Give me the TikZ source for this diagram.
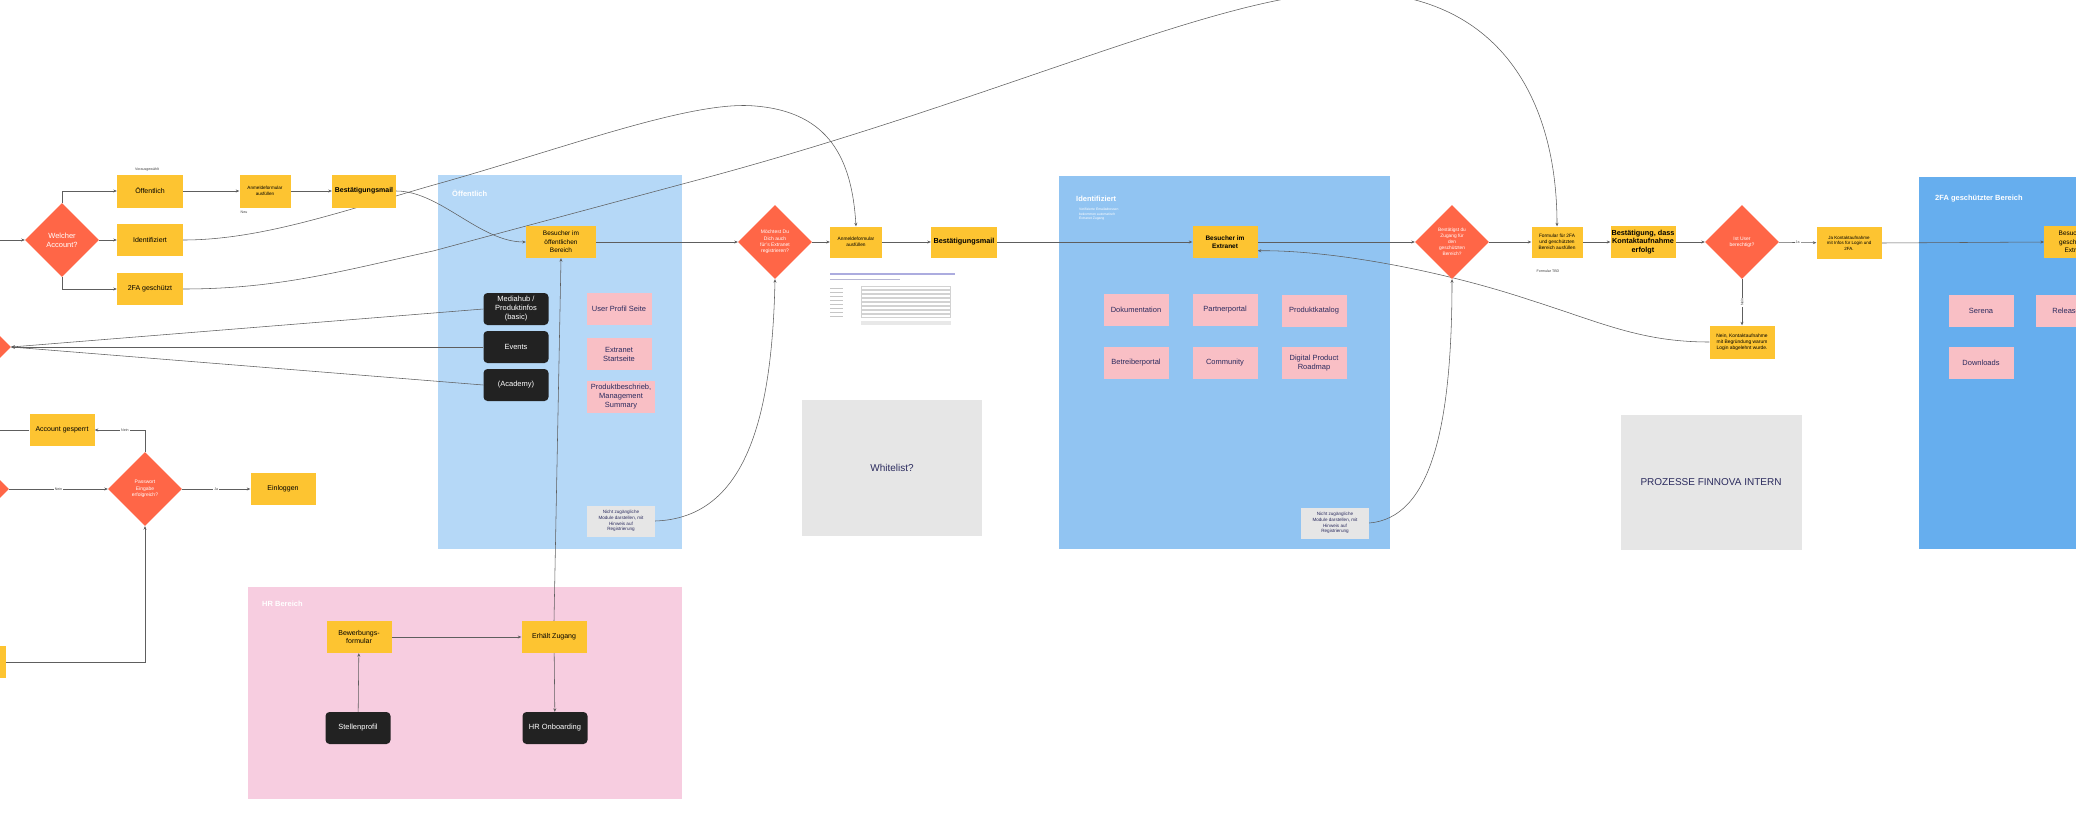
\documentclass[tikz,border=0pt]{standalone}
\usepackage{fontspec}
\setmainfont{Liberation Sans}
\setsansfont{Liberation Sans}
\usetikzlibrary{shapes.geometric,arrows.meta}
\pgfdeclarelayer{back}\pgfdeclarelayer{mid}\pgfsetlayers{back,mid,main}
\definecolor{yel}{HTML}{FDC431}
\definecolor{redd}{HTML}{FF6647}
\definecolor{oefc}{HTML}{B5D8F7}
\definecolor{idc}{HTML}{91C4F2}
\definecolor{zfc}{HTML}{66AEEE}
\definecolor{hrc}{HTML}{F7CDE0}
\definecolor{pinkb}{HTML}{F9BFC5}
\definecolor{greyb}{HTML}{E6E6E6}
\definecolor{darkb}{HTML}{222222}
\definecolor{navy}{HTML}{2B2B5E}
\definecolor{lin}{HTML}{5E5E5E}
\newcommand\myfs[2]{\fontsize{#1}{#2}\selectfont}
\tikzset{
 ybox/.style={fill=yel, minimum width=65pt, minimum height=32pt, inner sep=0.5pt, align=center, text=black, font=\myfs{7}{8.5}},
 dia/.style={diamond, aspect=1, fill=redd, minimum width=74pt, minimum height=74pt, inner sep=0pt, align=center, text=white, font=\myfs{5}{6.3}},
 dbox/.style={fill=darkb, rounded corners=4pt, minimum width=65pt, minimum height=32pt, inner sep=0.5pt, text=white, align=center, font=\myfs{7.5}{9}},
 pbox/.style={fill=pinkb, minimum width=65pt, minimum height=32pt, inner sep=0.5pt, text=navy, align=center, font=\myfs{7.5}{9}},
 gbox/.style={fill=greyb, minimum width=68pt, minimum height=31pt, inner sep=0.5pt, text=navy, align=center, font=\myfs{4.6}{5.8}},
 bigbox/.style={fill=greyb, inner sep=0pt, text=navy, font=\myfs{10}{12}},
 panel/.style={anchor=north west, inner sep=0pt, outer sep=0pt},
 ptitle/.style={anchor=west, text=white, inner sep=0pt, font=\bfseries\myfs{7.5}{9}},
 conn/.style={draw=lin, line width=0.55pt, -{Stealth[length=3.5pt,width=3pt]}},
 plain/.style={draw=lin, line width=0.55pt},
 lbl/.style={font=\myfs{3.6}{4.2}, fill=white, inner sep=1pt, text=darkgray},
 tiny/.style={font=\myfs{3.6}{4.2}, inner sep=0pt, text=darkgray},
}
\begin{document}
\begin{tikzpicture}[x=1pt,y=-1pt]
\useasboundingbox (0,0) rectangle (2076,814);

% ---------- panels ----------
\begin{pgfonlayer}{back}
\fill[white] (0,0) rectangle (2076,814);
\node[panel, fill=oefc, minimum width=244pt, minimum height=374pt] (pOef) at (438,175) {};
\node[panel, fill=hrc, minimum width=434pt, minimum height=212pt] (pHR) at (248,587) {};
\node[panel, fill=idc, minimum width=331pt, minimum height=373pt] (pId) at (1059,176) {};
\node[panel, fill=zfc, minimum width=180pt, minimum height=372pt] (pZf) at (1919,177) {};
\end{pgfonlayer}
\node[ptitle] (tOef) at (452,193) {Öffentlich};
\node[ptitle] (tHR) at (262,604) {HR Bereich};
\node[ptitle] (tId) at (1076,199) {Identifiziert};
\node[anchor=north west, text=white, align=left, inner sep=0pt, font=\myfs{3.4}{4.6}] (tIdSub) at (1079,208) {Verifizierte Emailadressen\\bekommen automatisch\\Extranet Zugang};
\node[ptitle] (tZf) at (1935,199) {2FA geschützter Bereich};

% ---------- left part ----------
\coordinate (in0) at (-30,240);
\coordinate (agl) at (-30,430);
\node[dia, font=\myfs{7.5}{9}] (wa) at (62,240) {Welcher\\Account?};
\node[ybox, minimum width=66pt, minimum height=33pt] (oef) at (150,191) {Öffentlich};
\node[ybox, minimum width=66pt] (idf) at (150,240) {Identifiziert};
\node[ybox, minimum width=66pt] (zfa) at (150,289) {2FA geschützt};
\node[ybox, minimum width=51pt, minimum height=33pt, font=\myfs{4.6}{5.8}] (anm1) at (265,191) {Anmeldeformular\\ausfüllen};
\node[ybox, minimum width=64pt, minimum height=33pt, font=\bfseries\myfs{7}{8.5}] (bst1) at (364,191) {Bestätigungsmail};
\node[tiny] (lvor) at (147,170) {Vorausgewählt};
\node[tiny] (lneu) at (244,212) {Neu};

\node[dia] (ldia1) at (-26,347) {};
\node[ybox] (ag) at (62,430) {Account gesperrt};
\node[dia] (ldia2) at (-28,489) {};
\node[dia] (pw) at (145,489) {Passwort\\Eingabe\\erfolgreich?};
\node[ybox] (ein) at (283,489) {Einloggen};
\node[ybox] (lbox) at (-27,662) {};

% ---------- Oeffentlich ----------
\node[ybox, minimum width=70pt, font=\myfs{6.5}{8.5}] (bo) at (561,242) {Besucher im\\öffentlichen\\Bereich};
\node[dbox] (med) at (516,309) {Mediahub /\\Produktinfos\\(basic)};
\node[dbox] (evt) at (516,347) {Events};
\node[dbox] (aca) at (516,385) {(Academy)};
\node[pbox] (ups) at (619,309) {User Profil Seite};
\node[pbox] (exs) at (619,354) {Extranet\\Startseite};
\node[pbox, minimum width=68pt] (pbm) at (621,397) {Produktbeschrieb,\\Management\\Summary};
\node[gbox] (nz1) at (621,521) {Nicht zugängliche\\Module darstellen, mit\\Hinweis auf\\Registrierung};

% ---------- HR ----------
\node[ybox] (bew) at (359,637) {Bewerbungs-\\formular};
\node[ybox] (erh) at (554,637) {Erhält Zugang};
\node[dbox] (stp) at (358,728) {Stellenprofil};
\node[dbox] (hro) at (555,728) {HR Onboarding};

% ---------- middle ----------
\node[dia] (d1) at (775,242) {Möchtest Du\\Dich auch\\für's Extranet\\registrieren?};
\node[ybox, minimum width=52pt, minimum height=31pt, font=\myfs{4.8}{6}] (anm2) at (856,242) {Anmeldeformular\\ausfüllen};
\node[ybox, minimum width=66pt, minimum height=31pt, font=\bfseries\myfs{7.3}{8.5}] (bst2) at (964,242) {Bestätigungsmail};
\node[bigbox, minimum width=180pt, minimum height=136pt] (wl) at (892,468) {Whitelist?};

% form screenshot
\fill[gray!55!blue!45] (830,273) rectangle (955,275);
\draw[blue!25!gray!45, line width=0.9pt] (830,279) -- (900,279);
\foreach \r in {0,...,7}{
  \draw[gray!45, line width=0.5pt] (830,288+4*\r) -- (843,288+4*\r);
  \draw[gray!35, line width=0.3pt] (861,286.5+4*\r) rectangle (950,289.5+4*\r);
}
\fill[gray!18] (861,321) rectangle (951,325);

% ---------- Identifiziert ----------
\node[ybox, font=\bfseries\myfs{6.5}{8.5}] (bext) at (1225,242) {Besucher im\\Extranet};
\node[pbox] (dok) at (1136,310) {Dokumentation};
\node[pbox] (ppo) at (1225,310) {Partnerportal};
\node[pbox] (pkt) at (1314,311) {Produktkatalog};
\node[pbox] (bet) at (1136,363) {Betreiberportal};
\node[pbox] (com) at (1225,363) {Community};
\node[pbox] (dpr) at (1314,363) {Digital Product\\Roadmap};
\node[gbox] (nz2) at (1335,523) {Nicht zugängliche\\Module darstellen, mit\\Hinweis auf\\Registrierung};

% ---------- right ----------
\node[dia, font=\myfs{4.8}{6.1}] (d2) at (1452,242) {Bestätigst du\\Zugang für\\den\\geschützten\\Bereich?};
\node[ybox, minimum width=51pt, minimum height=31pt, font=\myfs{4.8}{6.2}] (f2fa) at (1557,242) {Formular für 2FA\\und geschützten\\Bereich ausfüllen};
\node[tiny] (ltbd) at (1548,271) {Formular TBD};
\node[ybox, minimum width=65pt, inner sep=0pt, font=\bfseries\myfs{7.3}{8.7}] (bk) at (1643,242) {Bestätigung, dass\\Kontaktaufnahme\\erfolgt};
\node[dia] (d3) at (1742,242) {Ist User\\berechtigt?};
\node[ybox, font=\myfs{4.5}{5.6}] (jab) at (1849,243) {Ja Kontaktaufnahme\\mit Infos für Login und\\2FA.};
\node[ybox, minimum height=33pt, font=\myfs{4.9}{6.2}] (nein) at (1742,342) {Nein, Kontaktaufnahme\\mit Begründung warum\\Login abgelehnt wurde.};
\node[bigbox, minimum width=181pt, minimum height=135pt] (pfi) at (1711,482) {PROZESSE FINNOVA INTERN};

% ---------- 2FA ----------
\node[ybox, anchor=west, font=\myfs{6.5}{8.5}] (bge) at (2044,242) {Besucher im\\geschützten\\Extranet};
\node[pbox] (ser) at (1981,311) {Serena};
\node[pbox] (rel) at (2068,311) {Releases};
\node[pbox] (dwn) at (1981,363) {Downloads};

% ---------- connectors ----------
\begin{pgfonlayer}{mid}
\draw[conn] (in0) -- (wa.west);
\draw[conn] (wa.north) |- (oef.west);
\draw[conn] (wa.east) -- (idf.west);
\draw[conn] (wa.south) |- (zfa.west);
\draw[conn] (oef) -- (anm1);
\draw[conn] (anm1) -- (bst1);
\draw[conn] (bst1.east) .. controls (440,191) and (480,242) .. (bo.west);
\draw[conn] (idf.east) .. controls (260,240) and (340,212) .. (430,186) .. controls (560,150) and (690,100) .. (755,106) .. controls (830,112) and (852,160) .. (anm2.north);
\draw[conn] (zfa.east) .. controls (280,289) and (345,270) .. (433,251) -- (690,182) .. controls (1000,100) and (1220,-8) .. (1350,-8) .. controls (1500,-8) and (1557,100) .. (f2fa.north);
\draw[conn] (med.west) -- (ldia1.east);
\draw[conn] (evt.west) -- (ldia1.east);
\draw[conn] (aca.west) -- (ldia1.east);
\draw[plain] (ag.west) -- (agl);
\draw[conn] (ldia2.east) -- node[lbl]{Nein} (pw.west);
\draw[conn] (pw.east) -- node[lbl]{Ja} (ein.west);
\draw[conn] (pw.north) |- node[lbl, pos=0.7]{Nein} (ag.east);
\draw[conn] (lbox.east) -| (pw.south);
% HR
\draw[conn] (bew) -- (erh);
\draw[conn] (stp) -- (bew);
\draw[conn] (erh) -- (hro);
\draw[conn] (erh.north) -- (bo.south);
% main flow
\draw[conn] (bo) -- (d1);
\draw[conn] (d1) -- (anm2);
\draw[conn] (anm2) -- (bst2);
\draw[conn] (bst2) -- (bext);
\draw[conn] (bext) -- (d2);
\draw[conn] (d2) -- (f2fa);
\draw[conn] (f2fa) -- (bk);
\draw[conn] (bk) -- (d3);
\draw[conn] (d3) -- node[lbl]{Ja} (jab);
\draw[conn] (d3) -- node[lbl, rotate=90]{Nein} (nein);
\draw[conn] (jab.east) -- (bge.west);
\draw[conn] (nz1.east) .. controls (745,518) and (772,420) .. (d1.south);
\draw[conn] (nz2.east) .. controls (1430,518) and (1452,430) .. (d2.south);
\draw[conn] (nein.west) .. controls (1640,342) and (1600,322) .. (1530,300) .. controls (1440,270) and (1330,250) .. (bext.-15);
\end{pgfonlayer}
\end{tikzpicture}
\end{document}
